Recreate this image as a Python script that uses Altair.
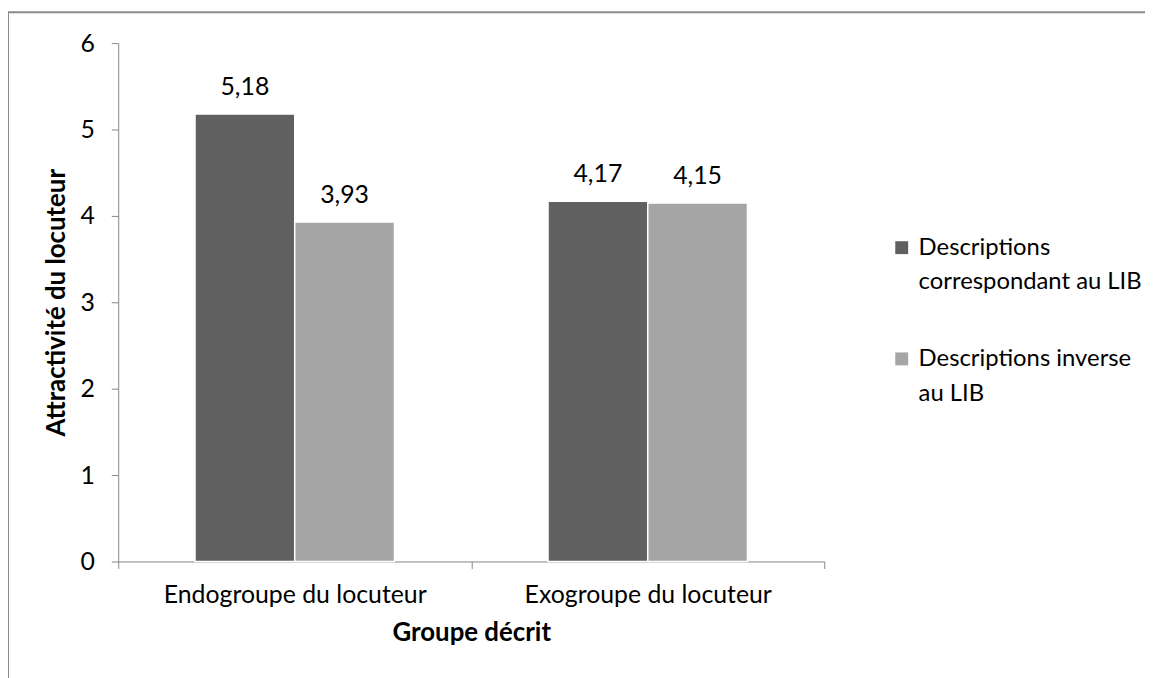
import altair as alt
import pandas as pd

# ---- data ----
groups = ["Endogroupe du locuteur", "Exogroupe du locuteur"]
series = ["Descriptions correspondant au LIB", "Descriptions inverse au LIB"]
legend_lines = [["Descriptions", "correspondant au LIB"], ["Descriptions inverse", "au LIB"]]
values_corr = [5.18, 4.17]
values_inv = [3.93, 4.15]
y_ticks = [0, 1, 2, 3, 4, 5, 6]
colors = ["#606060", "#a5a5a5"]

rows = []
for g, a, b in zip(groups, values_corr, values_inv):
    rows.append({"groupe": g, "serie": series[0], "valeur": a})
    rows.append({"groupe": g, "serie": series[1], "valeur": b})
df = pd.DataFrame(rows)

FONT = "Lato"
FS = 25
LFS = 24
TFS = 26
AXIS_COLOR = "#868686"
W, H = 711, 522

label_expr = " : ".join(
    f"datum.value == '{s}' ? {lines!r}" for s, lines in zip(series[:-1], legend_lines[:-1])
) + f" : {legend_lines[-1]!r}"

x_enc = alt.X(
    "groupe:N",
    sort=groups,
    scale=alt.Scale(paddingInner=0, paddingOuter=0),
    axis=alt.Axis(
        title="Groupe décrit",
        labelAngle=0,
        labelLimit=500,
        tickBand="extent",
        tickSize=7,
        tickColor=AXIS_COLOR,
        domainColor=AXIS_COLOR,
        labelFont=FONT,
        labelFontSize=FS,
        labelColor="#000000",
        labelPadding=14,
        titleFont=FONT,
        titleFontSize=TFS,
        titleFontWeight="bold",
        titleColor="#000000",
        titleY=72,
        titleBaseline="middle",
    ),
)
xoff_enc = alt.XOffset("serie:N", sort=series, scale=alt.Scale(paddingInner=0, paddingOuter=0.77))
y_enc = alt.Y(
    "valeur:Q",
    scale=alt.Scale(domain=[0, 6], nice=False),
    axis=alt.Axis(
        title="Attractivité du locuteur",
        values=y_ticks,
        grid=False,
        tickSize=7,
        tickColor=AXIS_COLOR,
        domainColor=AXIS_COLOR,
        labelFont=FONT,
        labelFontSize=FS,
        labelColor="#000000",
        labelPadding=17,
        titleFont=FONT,
        titleFontSize=TFS,
        titleFontWeight="bold",
        titleColor="#000000",
        titleX=-62,
        titleY=H / 2,
        titleBaseline="middle",
        titleAlign="center",
    ),
)
color_enc = alt.Color(
    "serie:N",
    scale=alt.Scale(domain=series, range=colors),
    legend=alt.Legend(
        title=None,
        orient="none",
        legendX=777,
        legendY=194,
        symbolType="square",
        symbolSize=169,
        symbolStrokeWidth=0,
        labelFont=FONT,
        labelFontSize=LFS,
        labelColor="#000000",
        labelOffset=5,
        labelExpr=label_expr,
        labelLimit=400,
        rowPadding=53,
        padding=0,
    ),
)

base = alt.Chart(df)

bars = base.mark_bar(stroke="#ffffff", strokeWidth=1.5).encode(
    x=x_enc, xOffset=xoff_enc, y=y_enc, color=color_enc
)

labels = base.transform_calculate(
    txt="replace(format(datum.valeur, '.2f'), '.', ',')"
).mark_text(font=FONT, fontSize=FS, baseline="bottom", dy=-14, color="#000000").encode(
    x=x_enc, xOffset=xoff_enc, y=y_enc, text="txt:N"
)

frame = alt.Chart(alt.Data(values=[{"f": 1}])).mark_rect(
    fill=None, stroke="#8c8c8c", strokeWidth=2
).encode(
    x=alt.value(-111), x2=alt.value(1100), y=alt.value(-31), y2=alt.value(700)
)

chart = (
    alt.layer(frame, bars, labels)
    .properties(
        width=W,
        height=H,
        autosize=alt.AutoSizeParams(type="none"),
        padding={"left": 111, "top": 33, "right": 323, "bottom": 115},
    )
    .configure(
        background="#ffffff",
        view=alt.ViewConfig(stroke=None),
        style={"guide-label": alt.MarkConfig(lineHeight=35)},
    )
)

chart.save("out.html", embed_options={"renderer": "svg", "actions": False})
